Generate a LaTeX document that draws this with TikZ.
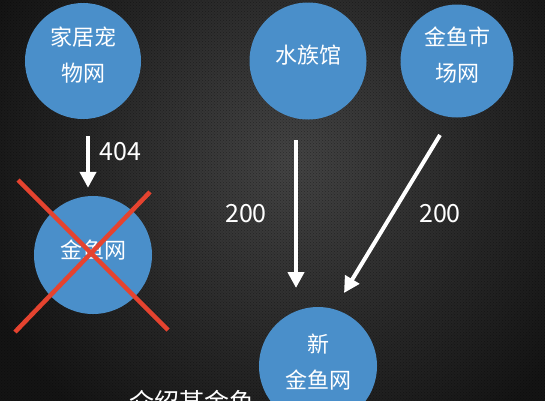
\documentclass[tikz,border=0pt]{standalone}
\usepackage{fontspec}
\setmainfont{Noto Sans CJK SC}
\usetikzlibrary{arrows.meta,patterns}
\definecolor{bubble}{HTML}{4A8FCA}
\definecolor{xred}{HTML}{E5432F}
\definecolor{bgdark}{HTML}{141414}
\definecolor{bglight}{HTML}{444444}
\tikzset{
  site/.style={circle, fill=bubble, inner sep=0pt},
  sitetext/.style={text=white, inner sep=0pt, align=center,
    font=\fontsize{22}{36}\selectfont},
  flow/.style={draw=white, line width=4pt,
    -{Triangle[width=16pt,length=16pt]}},
  code/.style={text=white, font=\fontsize{25}{25}\selectfont},
  cross/.style={draw=xred, line width=4.5pt},
}
\begin{document}
\begin{tikzpicture}[x=1pt,y=-1pt]
\useasboundingbox (0,0) rectangle (545,400);
\begin{scope}
\clip (-5,-5) rectangle (550,405);
\fill[bgdark] (-5,-5) rectangle (550,405);
\shade[inner color=bglight, outer color=bgdark] (290,160) circle (330);
\fill[pattern=crosshatch dots, pattern color=black, opacity=0.35] (-5,-5) rectangle (550,405);
\end{scope}
\clip (0,0) rectangle (545,400);

\node[site, minimum size=116pt] (pet) at (83,61) {};
\node[site, minimum size=117pt] (aqua) at (308,61) {};
\node[site, minimum size=113pt] (market) at (457,61) {};
\node[site, minimum size=118pt] (old) at (93,255) {};
\node[site, minimum size=118pt] (new) at (318,366) {};

\node[sitetext] (pett) at ([yshift=6pt]pet.center) {家居宠\\物网};
\node[sitetext] (aquat) at ([yshift=6pt]aqua.center) {水族馆};
\node[sitetext] (markett) at ([yshift=6pt]market.center) {金鱼市\\场网};
\node[sitetext] (oldt) at ([yshift=5pt]old.center) {金鱼网};
\node[sitetext] (newt) at ([yshift=4pt]new.center) {新\\金鱼网};

\draw[flow, shorten <=17pt, shorten >=8pt] (pet.south -| 88,0) -- (old.north -| 88,0);
\coordinate (a2s) at (296,140);
\coordinate (a2e) at (296,288);
\draw[flow] (a2s) -- (a2e);
\coordinate (a3s) at (440,135);
\coordinate (a3e) at (344,293);
\draw[flow] (a3s) -- (a3e);

\node[code, anchor=west] (l404) at (96,152) {404};
\node[code] (l200a) at (246,214) {200};
\node[code] (l200b) at (440,214) {200};

\coordinate (x1a) at (18,180);
\coordinate (x1b) at (168,330);
\coordinate (x2a) at (150,192);
\coordinate (x2b) at (15,332);
\draw[cross] (x1a) -- (x1b);
\draw[cross] (x2a) -- (x2b);

\node[text=white, font=\fontsize{25}{25}\selectfont] (intro) at (192,402) {介绍某金鱼};
\end{tikzpicture}
\end{document}
